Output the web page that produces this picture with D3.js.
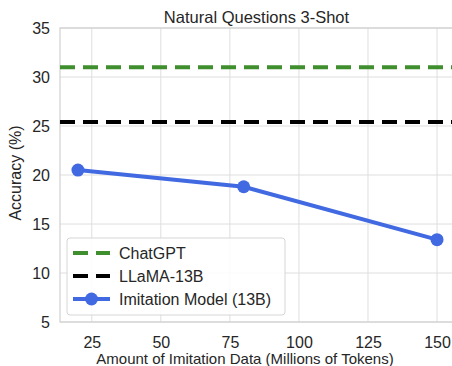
<!DOCTYPE html>
<html><head><meta charset="utf-8">
<script src="https://cdn.jsdelivr.net/npm/d3@7"></script>
<style>body{margin:0;background:#fff;}svg{display:block;font-family:"Liberation Sans",Arial,sans-serif;}</style>
</head><body><svg id="c" width="452" height="366"></svg>
<script>
const title = "Natural Questions 3-Shot";
const xLabel = "Amount of Imitation Data (Millions of Tokens)";
const yLabel = "Accuracy (%)";
const xTicks = [25, 50, 75, 100, 125, 150];
const yTicks = [5, 10, 15, 20, 25, 30, 35];
const tokens = [20, 80, 150];
const imitation = [20.5, 18.8, 13.4];
const chatgpt = 31.0;
const llama = 25.4;
const legendLabels = ["ChatGPT", "LLaMA-13B", "Imitation Model (13B)"];

const svg = d3.select("#c");
const L = 60, R = 455, T = 28, B = 322;
const x = d3.scaleLinear().domain([13.5, 156.5]).range([L, R]);
const y = d3.scaleLinear().domain([5, 35]).range([B, T]);
const grid = "#dedede";

const g = svg.append("g");
g.selectAll(".vg").data(xTicks).join("line")
  .attr("x1", d => x(d)).attr("x2", d => x(d)).attr("y1", T).attr("y2", B)
  .attr("stroke", grid).attr("stroke-width", 1);
g.selectAll(".hg").data(yTicks).join("line")
  .attr("x1", L).attr("x2", R).attr("y1", d => y(d)).attr("y2", d => y(d))
  .attr("stroke", grid).attr("stroke-width", 1);
g.append("rect").attr("x", L).attr("y", T).attr("width", R - L).attr("height", B - T)
  .attr("fill", "none").attr("stroke", "#d0d0d0").attr("stroke-width", 1.2);

const xa = svg.append("g").attr("transform", `translate(0,${B})`)
  .call(d3.axisBottom(x).tickValues(xTicks).tickSize(0).tickPadding(15));
const ya = svg.append("g").attr("transform", `translate(${L},0)`)
  .call(d3.axisLeft(y).tickValues(yTicks).tickSize(0).tickPadding(10));
[xa, ya].forEach(a => {
  a.select(".domain").remove();
  a.selectAll("text").attr("font-size", 16).attr("fill", "#262626")
    .attr("font-family", "Liberation Sans, Arial, sans-serif");
});

svg.append("line").attr("x1", L).attr("x2", R).attr("y1", y(chatgpt)).attr("y2", y(chatgpt))
  .attr("stroke", "#3f8f2f").attr("stroke-width", 4).attr("stroke-dasharray", "15,8");
svg.append("line").attr("x1", L).attr("x2", R).attr("y1", y(llama)).attr("y2", y(llama))
  .attr("stroke", "#000").attr("stroke-width", 4).attr("stroke-dasharray", "15,8");

const blue = "#4169e1";
const pts = tokens.map((t, i) => [t, imitation[i]]);
svg.append("path").datum(pts)
  .attr("d", d3.line().x(d => x(d[0])).y(d => y(d[1])))
  .attr("fill", "none").attr("stroke", blue).attr("stroke-width", 4);
svg.selectAll(".pt").data(pts).join("circle")
  .attr("cx", d => x(d[0])).attr("cy", d => y(d[1])).attr("r", 6.5).attr("fill", blue);

svg.append("text").attr("x", (L + R) / 2 - 1).attr("y", 22.5).attr("text-anchor", "middle")
  .attr("font-size", 16.5).attr("fill", "#262626").text(title);
svg.append("text").attr("x", 245).attr("y", 364).attr("text-anchor", "middle")
  .attr("font-size", 15).attr("fill", "#262626").text(xLabel);
svg.append("text").attr("transform", "translate(21,173) rotate(-90)").attr("text-anchor", "middle")
  .attr("font-size", 16).attr("fill", "#262626").text(yLabel);

const lg = svg.append("g");
lg.append("rect").attr("x", 67).attr("y", 238).attr("width", 218).attr("height", 77)
  .attr("rx", 3).attr("fill", "#fff").attr("fill-opacity", 0.85).attr("stroke", "#d6d6d6");
const ly = [253, 276, 299];
const styles = [
  {c: "#3f8f2f", dash: "15,8", m: false},
  {c: "#000", dash: "15,8", m: false},
  {c: blue, dash: null, m: true}
];
legendLabels.forEach((lab, i) => {
  const s = styles[i];
  lg.append("line").attr("x1", 73).attr("x2", 110).attr("y1", ly[i]).attr("y2", ly[i])
    .attr("stroke", s.c).attr("stroke-width", 4).attr("stroke-dasharray", s.dash);
  if (s.m) lg.append("circle").attr("cx", 91.5).attr("cy", ly[i]).attr("r", 6.5).attr("fill", s.c);
  lg.append("text").attr("x", 119).attr("y", ly[i]).attr("dy", "0.35em")
    .attr("font-size", 16).attr("fill", "#262626").text(lab);
});
</script></body></html>
